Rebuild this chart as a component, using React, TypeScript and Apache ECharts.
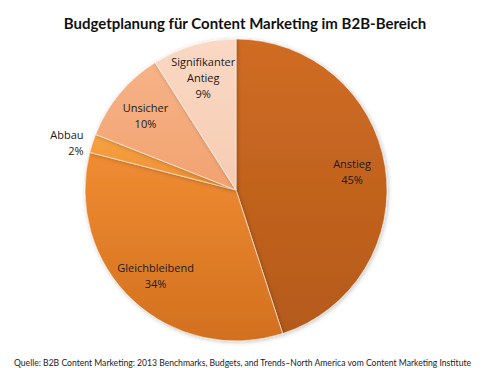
import React, { useEffect, useRef } from "react";
import * as echarts from "echarts";

const categories = ["Anstieg", "Gleichbleibend", "Abbau", "Unsicher", "Signifikanter\nAntieg"];
const values = [45, 34, 2, 10, 9];
const colorsTop = ["#D06C24", "#F08C32", "#F7A243", "#F6B286", "#FAD8C4"];
const colorsBottom = ["#B45A19", "#D2701F", "#EE8E33", "#F2A270", "#F6CCB2"];

const titleText = "Budgetplanung für Content Marketing im B2B-Bereich";
const sourceText = "Quelle: B2B Content Marketing: 2013 Benchmarks, Budgets, and Trends–North America vom Content Marketing Institute";

export default function App() {
  const ref = useRef<HTMLDivElement>(null);
  useEffect(() => {
    if (!ref.current) return;
    const chart = echarts.init(ref.current, null, { renderer: "svg" });
    const data = categories.map((name, i) => ({
      name,
      value: values[i],
      itemStyle: {
        color: new echarts.graphic.LinearGradient(0, 0, 0, 1, [
          { offset: 0, color: colorsTop[i] },
          { offset: 1, color: colorsBottom[i] },
        ]),
      },
    }));
    const labelData = categories.map((name, i) => ({
      name,
      value: values[i],
      label:
        name === "Abbau"
          ? { position: "outside" as const }
          : { position: "inner" as const },
      labelLine: { show: false, length: 4, length2: 0 },
    }));
    chart.setOption({
      animation: false,
      title: [
        {
          text: titleText,
          left: "center",
          top: 10,
          textStyle: { fontFamily: "Lato", fontWeight: "bold", fontSize: 15, color: "#111" },
        },
        {
          text: sourceText,
          left: 9,
          top: 353,
          textStyle: { fontFamily: "Lato", fontWeight: "normal", fontSize: 8.6, color: "#222" },
        },
      ],
      series: [
        {
          type: "pie",
          center: [236, 190],
          radius: [0, 151],
          startAngle: 90,
          clockwise: true,
          silent: true,
          label: { show: false },
          labelLine: { show: false },
          itemStyle: {
            borderColor: "rgba(255,255,255,0.55)",
            borderWidth: 1,
            shadowBlur: 4,
            shadowColor: "rgba(0,0,0,0.25)",
            shadowOffsetX: 1,
            shadowOffsetY: 1,
          },
          data,
        },
        {
          type: "pie",
          center: [236, 190],
          radius: [78, 151],
          startAngle: 90,
          clockwise: true,
          silent: true,
          itemStyle: { color: "rgba(0,0,0,0)" },
          label: {
            show: true,
            formatter: "{b}\n{d}%",
            fontFamily: "Open Sans",
            fontSize: 11,
            lineHeight: 16,
            color: "#1a1a1a",
            align: "center",
          },
          labelLine: { show: false },
          data: labelData,
        },
      ],
    });
    return () => chart.dispose();
  }, []);
  return (
    <div
      ref={ref}
      style={{ position: "fixed", left: 0, top: 0, width: 490, height: 368, background: "#fff" }}
    />
  );
}
